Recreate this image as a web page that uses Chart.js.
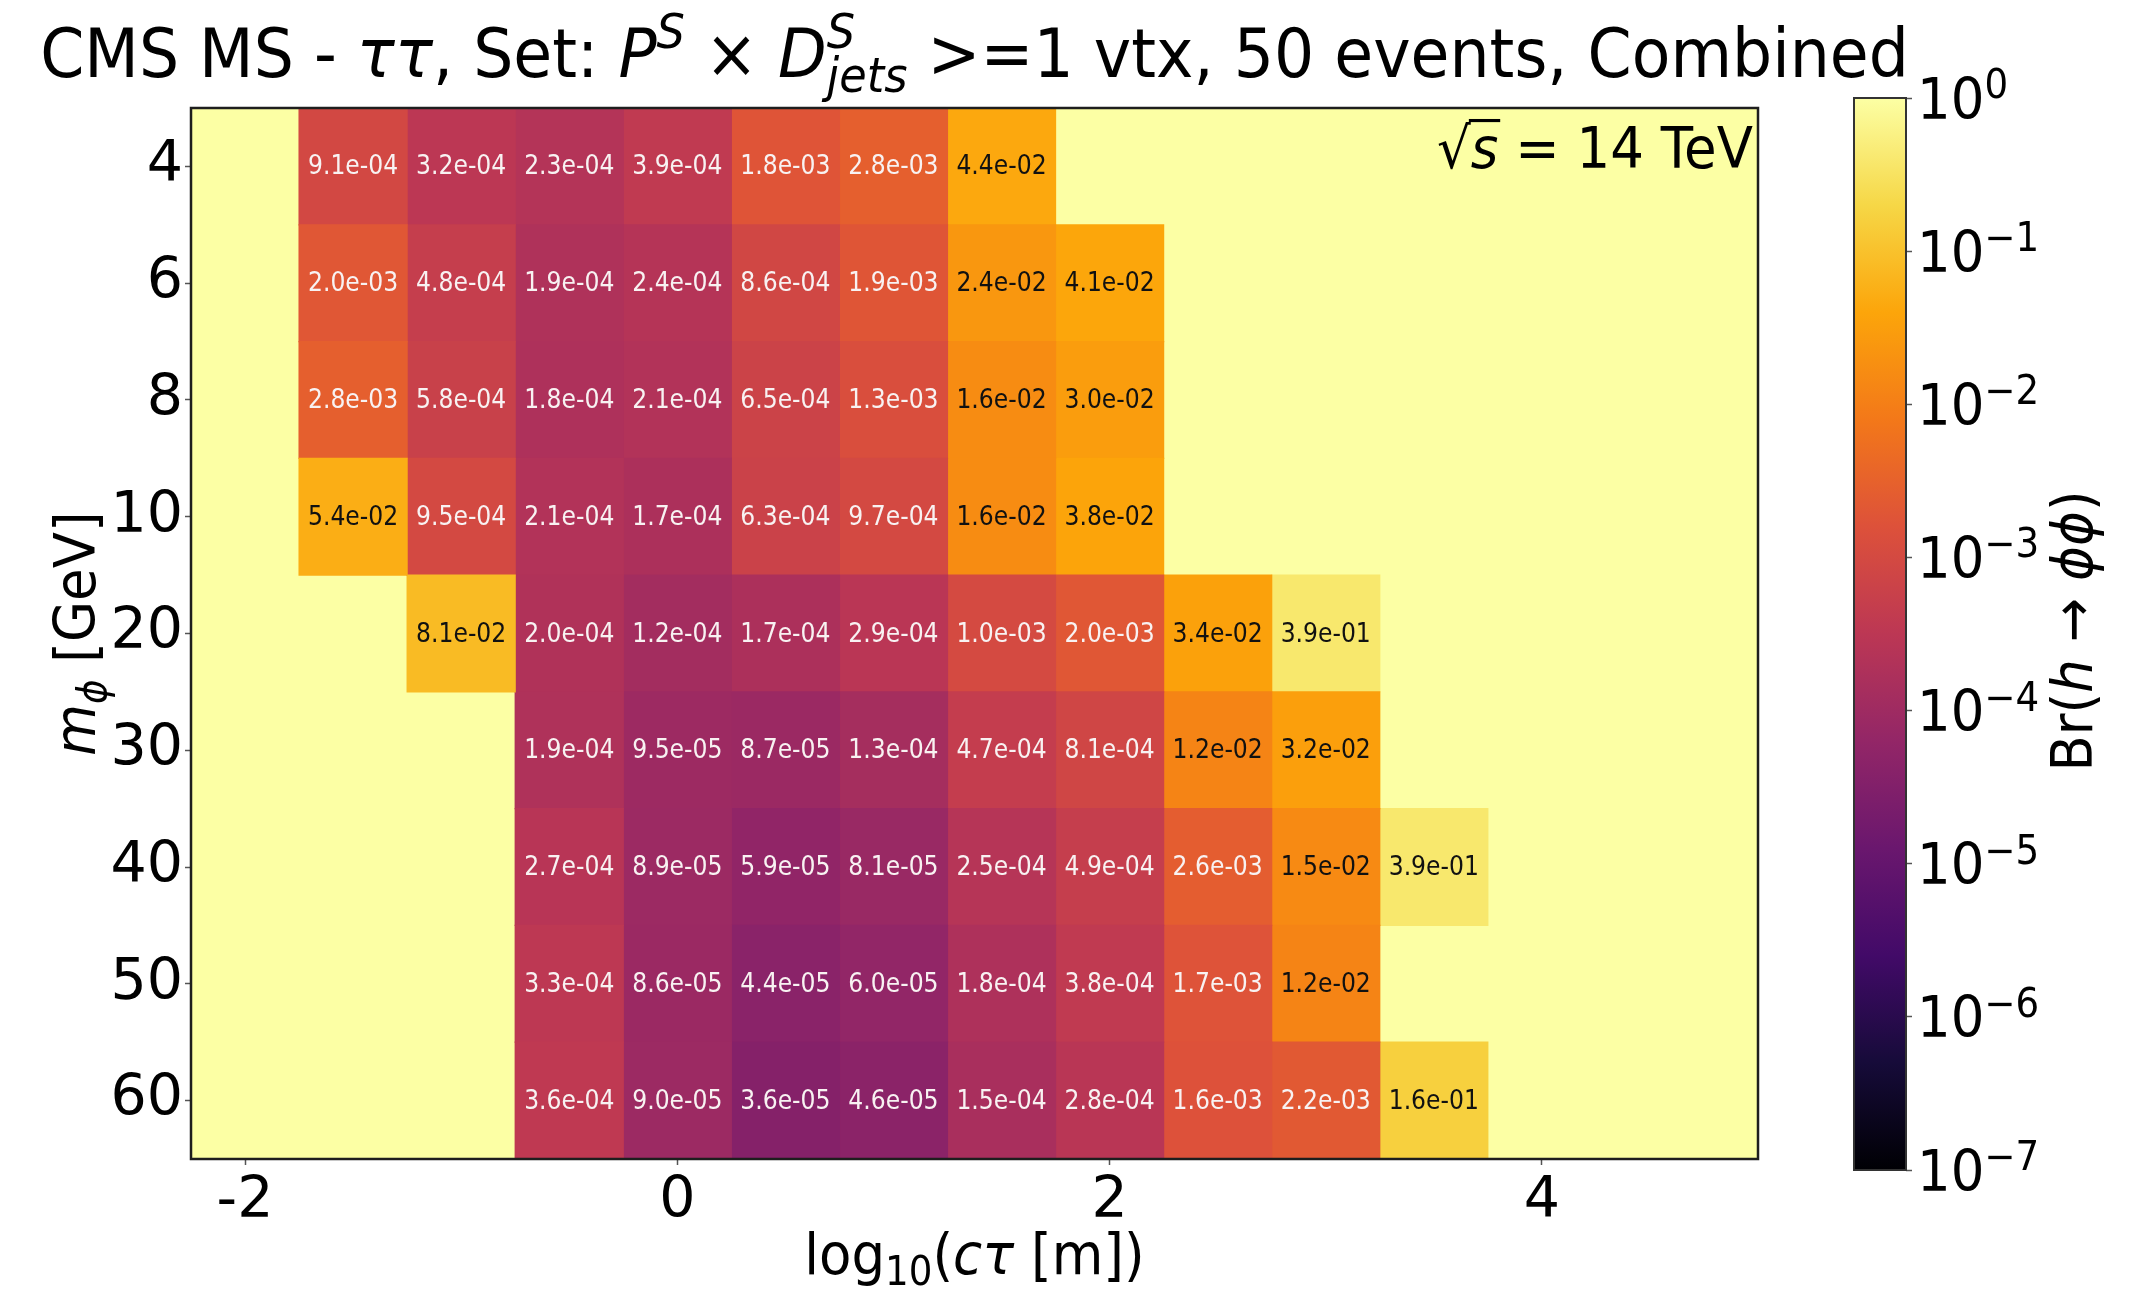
<!DOCTYPE html>
<html>
<head>
<meta charset="utf-8">
<script src="https://cdn.jsdelivr.net/npm/chart.js@4.4.1/dist/chart.umd.min.js"></script>
<style>
  html, body { margin: 0; padding: 0; background: #fff; }
  #wrap { position: relative; width: 2146px; height: 1292px; }
  #wrap canvas { position: absolute; left: 0; top: 0; width: 2146px; height: 1292px; }
</style>
</head>
<body>
<div id="wrap">
  <canvas id="heat" width="2146" height="1292"></canvas>
  <canvas id="cbar" width="2146" height="1292"></canvas>
</div>
<script>
// m_phi rows (top to bottom) and log10(c tau) bin centres
const massLabels  = ['4', '6', '8', '10', '20', '30', '40', '50', '60'];
const ctauCentres = [-1.5, -1, -0.5, 0, 0.5, 1, 1.5, 2, 2.5, 3, 3.5];
const ctauHalfBin = 0.25;

// Br(h -> phi phi) limits, one array per mass, null = no limit
const br_m4  = [9.1e-4, 3.2e-4, 2.3e-4, 3.9e-4, 1.8e-3, 2.8e-3, 4.4e-2, null,   null,   null,   null];
const br_m6  = [2.0e-3, 4.8e-4, 1.9e-4, 2.4e-4, 8.6e-4, 1.9e-3, 2.4e-2, 4.1e-2, null,   null,   null];
const br_m8  = [2.8e-3, 5.8e-4, 1.8e-4, 2.1e-4, 6.5e-4, 1.3e-3, 1.6e-2, 3.0e-2, null,   null,   null];
const br_m10 = [5.4e-2, 9.5e-4, 2.1e-4, 1.7e-4, 6.3e-4, 9.7e-4, 1.6e-2, 3.8e-2, null,   null,   null];
const br_m20 = [null,   8.1e-2, 2.0e-4, 1.2e-4, 1.7e-4, 2.9e-4, 1.0e-3, 2.0e-3, 3.4e-2, 3.9e-1, null];
const br_m30 = [null,   null,   1.9e-4, 9.5e-5, 8.7e-5, 1.3e-4, 4.7e-4, 8.1e-4, 1.2e-2, 3.2e-2, null];
const br_m40 = [null,   null,   2.7e-4, 8.9e-5, 5.9e-5, 8.1e-5, 2.5e-4, 4.9e-4, 2.6e-3, 1.5e-2, 3.9e-1];
const br_m50 = [null,   null,   3.3e-4, 8.6e-5, 4.4e-5, 6.0e-5, 1.8e-4, 3.8e-4, 1.7e-3, 1.2e-2, null];
const br_m60 = [null,   null,   3.6e-4, 9.0e-5, 3.6e-5, 4.6e-5, 1.5e-4, 2.8e-4, 1.6e-3, 2.2e-3, 1.6e-1];
const brRows = [br_m4, br_m6, br_m8, br_m10, br_m20, br_m30, br_m40, br_m50, br_m60];

const xTickValues = [-2, 0, 2, 4];
const cbTickValues = [1, 1e-1, 1e-2, 1e-3, 1e-4, 1e-5, 1e-6, 1e-7];
const cbTickExps   = ['0', '\u22121', '\u22122', '\u22123', '\u22124', '\u22125', '\u22126', '\u22127'];

const FONT = '"DejaVu Sans", sans-serif';
const SQUEEZE = 0.93;   // labels are set a little narrow

// inferno colour map, sampled every 0.1
const INFERNO = ['#000004', '#160b39', '#420a68', '#6a176e', '#932667', '#bc3754',
                 '#dd513a', '#f37819', '#fca50a', '#f6d746', '#fcffa4'];
function hexRgb(h) { return [1, 3, 5].map(i => parseInt(h.substr(i, 2), 16)); }
function inferno(t) {
  t = Math.min(1, Math.max(0, t));
  const p = t * 10, i = Math.min(9, Math.floor(p)), f = p - i;
  const a = hexRgb(INFERNO[i]), b = hexRgb(INFERNO[i + 1]);
  const c = a.map((v, k) => Math.round(v + (b[k] - v) * f));
  return `rgb(${c[0]},${c[1]},${c[2]})`;
}
function brColour(v) { return inferno((Math.log10(v) + 7) / 7); }
function fmtBr(v) {
  const [m, e] = v.toExponential(1).split('e');
  const n = parseInt(e, 10);
  return m + 'e' + (n < 0 ? '-' : '+') + String(Math.abs(n)).padStart(2, '0');
}

// mixed-style text: runs of {t, size, italic, dy, over} or {stack: [runs]}
function fontOf(r) { return (r.italic ? 'italic ' : '') + r.size + 'px ' + FONT; }
function runWidth(ctx, r) {
  if (r.stack) return Math.max(...r.stack.map(q => runWidth(ctx, q)));
  ctx.font = fontOf(r);
  return ctx.measureText(r.t).width;
}
function drawRuns(ctx, runs, x, y, align) {
  const total = runs.reduce((a, r) => a + runWidth(ctx, r), 0);
  let cx = align === 'center' ? -total / 2 : align === 'right' ? -total : 0;
  ctx.save();
  ctx.translate(x, y);
  ctx.scale(SQUEEZE, 1);
  ctx.textAlign = 'left';
  ctx.textBaseline = 'alphabetic';
  for (const r of runs) {
    for (const q of (r.stack || [r])) {
      ctx.font = fontOf(q);
      ctx.fillText(q.t, cx, q.dy || 0);
      if (q.over) {
        const w = ctx.measureText(q.t).width;
        ctx.fillRect(cx - 2, -q.size * 0.86, w + 4, q.size * 0.055);
      }
    }
    cx += runWidth(ctx, r);
  }
  ctx.restore();
}

const T = 68, L = 57, S = 40;
const titleRuns = [
  { t: 'CMS MS - ', size: T },
  { t: '\u03c4\u03c4', size: T, italic: true },
  { t: ', Set: ', size: T },
  { t: 'P', size: T, italic: true },
  { t: 'S', size: 48, italic: true, dy: -0.42 * T },
  { t: ' \u00d7 ', size: T },
  { t: 'D', size: T, italic: true },
  { stack: [{ t: 'S', size: 48, italic: true, dy: -0.42 * T },
            { t: 'jets', size: 48, italic: true, dy: 0.22 * T }] },
  { t: ' >=1 vtx, 50 events, Combined', size: T }
];
const xLabelRuns = [
  { t: 'log', size: L },
  { t: '10', size: S, dy: 0.2 * L },
  { t: '(', size: L },
  { t: 'c\u03c4', size: L, italic: true },
  { t: ' [m])', size: L }
];
const yLabelRuns = [
  { t: 'm', size: L, italic: true },
  { t: '\u03d5', size: S, italic: true, dy: 0.2 * L },
  { t: ' [GeV]', size: L }
];
const energyRuns = [
  { t: '\u221a', size: L },
  { t: 's', size: L, italic: true, over: true },
  { t: ' = 14 TeV', size: L }
];
const cbLabelRuns = [
  { t: 'Br(', size: L },
  { t: 'h', size: L, italic: true },
  { t: ' \u2192 ', size: L },
  { t: '\u03d5\u03d5', size: L, italic: true },
  { t: ')', size: L }
];

const heatPlugin = {
  id: 'heatDecor',
  beforeDatasetsDraw(chart) {
    const { ctx, chartArea: a } = chart;
    ctx.save();
    ctx.fillStyle = brColour(1);
    ctx.fillRect(a.left, a.top, a.right - a.left, a.bottom - a.top);
    ctx.restore();
  },
  afterDatasetsDraw(chart) {
    const { ctx, chartArea: a } = chart;
    ctx.save();
    // cell values
    ctx.font = '27px ' + FONT;
    ctx.textAlign = 'center';
    ctx.textBaseline = 'middle';
    chart.data.datasets.forEach((ds, j) => {
      chart.getDatasetMeta(j).data.forEach((el, i) => {
        const v = brRows[i][j];
        if (v == null) return;
        const p = el.getCenterPoint();
        ctx.save();
        ctx.translate(p.x, p.y + 1);
        ctx.scale(0.87, 1);
        ctx.fillStyle = v < 5e-3 ? '#f8f2f2' : '#111111';
        ctx.fillText(fmtBr(v), 0, 0);
        ctx.restore();
      });
    });
    // axes frame
    ctx.strokeStyle = '#1e1e1e';
    ctx.lineWidth = 2.5;
    ctx.strokeRect(a.left, a.top, a.right - a.left, a.bottom - a.top);
    ctx.fillStyle = '#000';
    drawRuns(ctx, titleRuns, (a.left + a.right) / 2, 77, 'center');
    drawRuns(ctx, xLabelRuns, (a.left + a.right) / 2, 1274, 'center');
    drawRuns(ctx, energyRuns, a.right - 5, 168, 'right');
    ctx.translate(95, (a.top + a.bottom) / 2);
    ctx.rotate(-Math.PI / 2);
    drawRuns(ctx, yLabelRuns, 0, 0, 'center');
    ctx.restore();
  }
};

new Chart(document.getElementById('heat'), {
  type: 'bar',
  data: {
    labels: massLabels,
    datasets: ctauCentres.map((c, j) => ({
      label: String(c),
      data: brRows.map(r => (r[j] == null ? null : [c - ctauHalfBin, c + ctauHalfBin])),
      backgroundColor: ctx => {
        const v = brRows[ctx.dataIndex][j];
        return v == null ? 'rgba(0,0,0,0)' : brColour(v);
      },
      borderWidth: 0,
      borderSkipped: false,
      inflateAmount: 0.6,
      grouped: false,
      barPercentage: 1,
      categoryPercentage: 1
    }))
  },
  options: {
    indexAxis: 'y',
    responsive: false,
    animation: false,
    devicePixelRatio: 1,
    layout: { padding: { left: 0, top: 108, right: 2146 - 1758, bottom: 0 } },
    plugins: { legend: { display: false }, tooltip: { enabled: false }, title: { display: false } },
    scales: {
      x: {
        type: 'linear',
        min: -2.25,
        max: 5,
        afterBuildTicks: s => { s.ticks = xTickValues.map(v => ({ value: v })); },
        afterFit: s => { s.height = 1292 - 1159; },
        ticks: { font: { family: FONT, size: 57 }, color: '#000', padding: 3, callback: v => String(v) },
        grid: { drawOnChartArea: false, tickLength: 6, tickWidth: 1.5, color: '#555' },
        border: { display: false }
      },
      y: {
        type: 'category',
        offset: true,
        afterFit: s => { s.width = 191; },
        ticks: { font: { family: FONT, size: 57 }, color: '#000', padding: 2 },
        grid: { drawOnChartArea: false, tickLength: 6, tickWidth: 1.5, color: '#555', offset: false },
        border: { display: false }
      }
    }
  },
  plugins: [heatPlugin]
});

// colour bar: one floating bar spanning the full log range, filled with the map
function barGradient(ctx) {
  const ys = ctx.chart.scales.y;
  const y0 = ys ? ys.getPixelForValue(1e-7) : NaN;
  const y1 = ys ? ys.getPixelForValue(1) : NaN;
  if (!isFinite(y0) || !isFinite(y1) || y0 === y1) return '#000004';
  const g = ctx.chart.ctx.createLinearGradient(0, y0, 0, y1);
  INFERNO.forEach((c, i) => g.addColorStop(i / 10, c));
  return g;
}

const cbarPlugin = {
  id: 'cbarDecor',
  afterDatasetsDraw(chart) {
    const { ctx, chartArea: a } = chart;
    const ys = chart.scales.y;
    ctx.save();
    ctx.strokeStyle = '#333';
    ctx.lineWidth = 2;
    ctx.strokeRect(a.left, a.top, a.right - a.left, a.bottom - a.top);
    ctx.fillStyle = '#000';
    cbTickValues.forEach((v, k) => {
      const y = ys.getPixelForValue(v) + 20.5;
      drawRuns(ctx, [{ t: '10', size: L }, { t: cbTickExps[k], size: S, dy: -0.36 * L }], a.right + 11, y, 'left');
    });
    ctx.translate(2092, 631);
    ctx.rotate(-Math.PI / 2);
    drawRuns(ctx, cbLabelRuns, 0, 0, 'center');
    ctx.restore();
  }
};

const cbarChart = new Chart(document.getElementById('cbar'), {
  type: 'bar',
  data: {
    labels: [''],
    datasets: [{
      data: [[1e-7, 1]],
      backgroundColor: barGradient,
      borderWidth: 0,
      barPercentage: 1,
      categoryPercentage: 1
    }]
  },
  options: {
    responsive: false,
    animation: false,
    devicePixelRatio: 1,
    layout: { padding: { left: 1854, top: 98, right: 2146 - 1906, bottom: 1292 - 1170 } },
    plugins: { legend: { display: false }, tooltip: { enabled: false } },
    scales: {
      x: { display: false },
      y: {
        type: 'logarithmic',
        position: 'right',
        min: 1e-7,
        max: 1,
        afterBuildTicks: s => { s.ticks = cbTickValues.map(v => ({ value: v })); },
        afterFit: s => { s.width = 0; },
        ticks: { callback: () => '', padding: 0 },
        grid: { drawOnChartArea: false, tickLength: 6, tickWidth: 1.5, color: '#555' },
        border: { display: false }
      }
    }
  },
  plugins: [cbarPlugin]
});
cbarChart.update();
</script>
</body>
</html>
